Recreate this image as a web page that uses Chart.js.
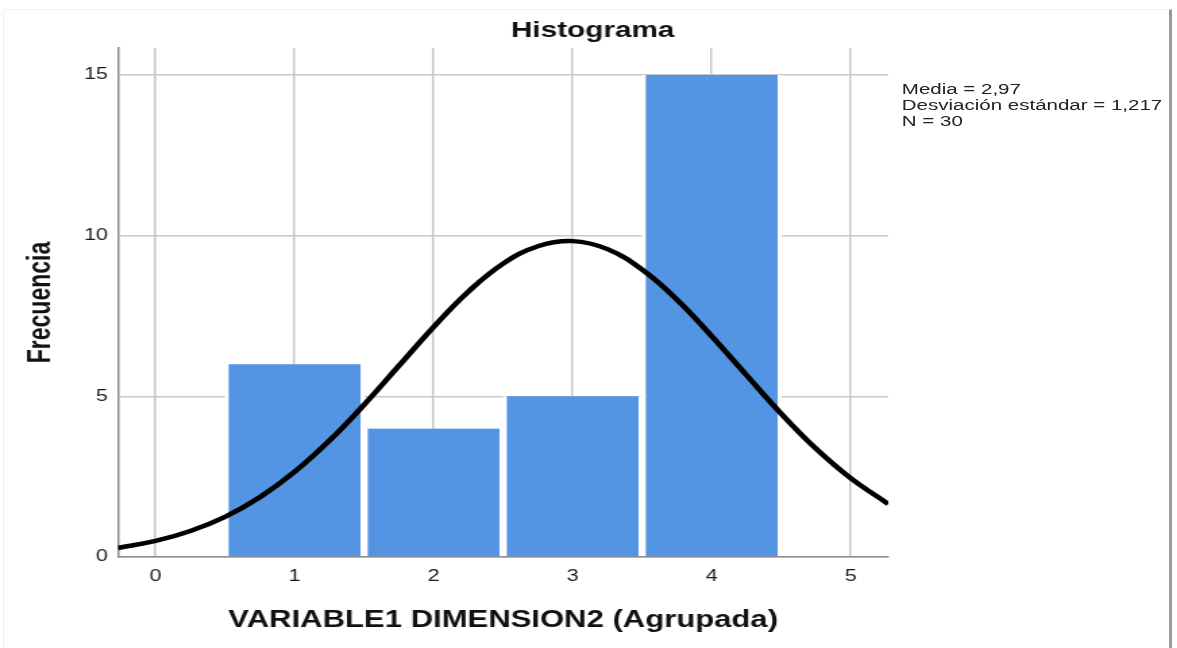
<!DOCTYPE html>
<html>
<head>
<meta charset="utf-8">
<title>Histograma</title>
<script src="https://cdn.jsdelivr.net/npm/chart.js@4.4.1/dist/chart.umd.min.js"></script>
<style>
  html, body { margin: 0; padding: 0; background: #fff; overflow: hidden; }
  #frame {
    position: absolute; left: 3px; top: 9px; width: 1165px; height: 660px;
    border-top: 1px solid #f0f0f0; border-left: 1px solid #f0f0f0; border-right: 3px solid #9a9a9a;
  }
  /* la imagen original esta estirada en horizontal */
  #wrap {
    position: absolute; left: 0; top: 0; width: 872px; height: 648px;
    transform: scaleX(1.35); transform-origin: 0 0;
  }
  #stats {
    position: absolute; left: 668px; top: 81px;
    font: 15.2px/16px "Liberation Sans", Arial, sans-serif; color: #222; white-space: nowrap;
  }
</style>
</head>
<body>
<div id="frame"></div>
<div id="wrap">
  <canvas id="histChart" width="872" height="648"></canvas>
  <div id="stats"></div>
</div>
<script>
/* Datos del histograma */
const binCenters = [1, 2, 3, 4];
const frequencies = [6, 4, 5, 15];

/* Curva normal */
const curveX = [-0.27, 0, 0.25, 0.5, 0.75, 1, 1.25, 1.5, 1.75, 2, 2.25, 2.5, 2.75, 3,
  3.25, 3.5, 3.75, 4, 4.25, 4.5, 4.75, 5, 5.27];
const curveY = [0.28, 0.5, 0.81, 1.25, 1.86, 2.65, 3.62, 4.74, 5.95, 7.16, 8.26, 9.13, 9.67, 9.83,
  9.58, 8.94, 8.01, 6.87, 5.66, 4.46, 3.37, 2.45, 1.65];

const xTickValues = [0, 1, 2, 3, 4, 5];
const yTickValues = [0, 5, 10, 15];

const statsLines = ["Media = 2,97", "Desviación estándar = 1,217", "N = 30"];

document.getElementById("stats").innerHTML = statsLines.join("<br>");

Chart.defaults.font.family = '"Liberation Sans", Arial, sans-serif';
Chart.defaults.color = "#222";

const barData = binCenters.map((c, i) => ({ x: c, y: frequencies[i] }));
const lineData = curveX.map((x, i) => ({ x: x, y: curveY[i] }));

const ctx = document.getElementById("histChart").getContext("2d");

new Chart(ctx, {
  type: "bar",
  data: {
    datasets: [
      {
        type: "line",
        data: lineData,
        borderColor: "#000",
        borderWidth: 4.5,
        pointRadius: 0,
        tension: 0.4,
        fill: false,
        order: 0
      },
      {
        type: "bar",
        data: barData,
        backgroundColor: "#5495e3",
        borderColor: "#fff",
        borderWidth: { left: 3, right: 3, top: 0, bottom: 0 },
        borderSkipped: false,
        barPercentage: 1,
        categoryPercentage: 1,
        order: 1
      }
    ]
  },
  options: {
    responsive: false,
    animation: false,
    layout: { padding: { left: 6, right: 0, top: 0, bottom: 0 } },
    plugins: {
      legend: { display: false },
      tooltip: { enabled: false },
      title: {
        display: true,
        text: "Histograma",
        color: "#111",
        font: { size: 22, weight: "bold" },
        padding: { top: 17.8, bottom: 3.8 }
      }
    },
    scales: {
      x: {
        type: "linear",
        min: -0.27,
        max: 5.27,
        offset: false,
        afterBuildTicks: (s) => {
          s.ticks = xTickValues.map((v) => ({ value: v }));
        },
        afterFit: (s) => {
          s.height = 91;
        },
        grid: { color: "#c8c8c8", lineWidth: 1.5, drawTicks: false, offset: false },
        border: { color: "#8a8a8a", width: 1.5 },
        ticks: { padding: 10, font: { size: 16 }, color: "#1a1a1a" },
        title: {
          display: true,
          text: "VARIABLE1 DIMENSION2 (Agrupada)",
          color: "#111",
          font: { size: 23, weight: "bold" },
          padding: { top: 0, bottom: 14 }
        }
      },
      y: {
        min: 0,
        max: 15.84,
        afterBuildTicks: (s) => {
          s.ticks = yTickValues.map((v) => ({ value: v }));
        },
        afterFit: (s) => {
          s.width = 81.4;
        },
        grid: { color: "#c8c8c8", lineWidth: 1.5, drawTicks: false },
        border: { color: "#8a8a8a", width: 1.5 },
        ticks: { padding: 7.4, font: { size: 16 }, color: "#1a1a1a" },
        title: {
          display: true,
          text: "Frecuencia",
          color: "#111",
          font: { size: 23, weight: "bold" },
          padding: { top: 11.2, bottom: 0 }
        }
      },
      // eje vacio a la derecha para dejar sitio al texto de estadisticos
      yRight: {
        position: "right",
        min: 0,
        max: 1,
        grid: { display: false },
        border: { display: false },
        ticks: { display: false },
        afterFit: (s) => {
          s.width = 214;
        }
      }
    }
  }
});
</script>
</body>
</html>
